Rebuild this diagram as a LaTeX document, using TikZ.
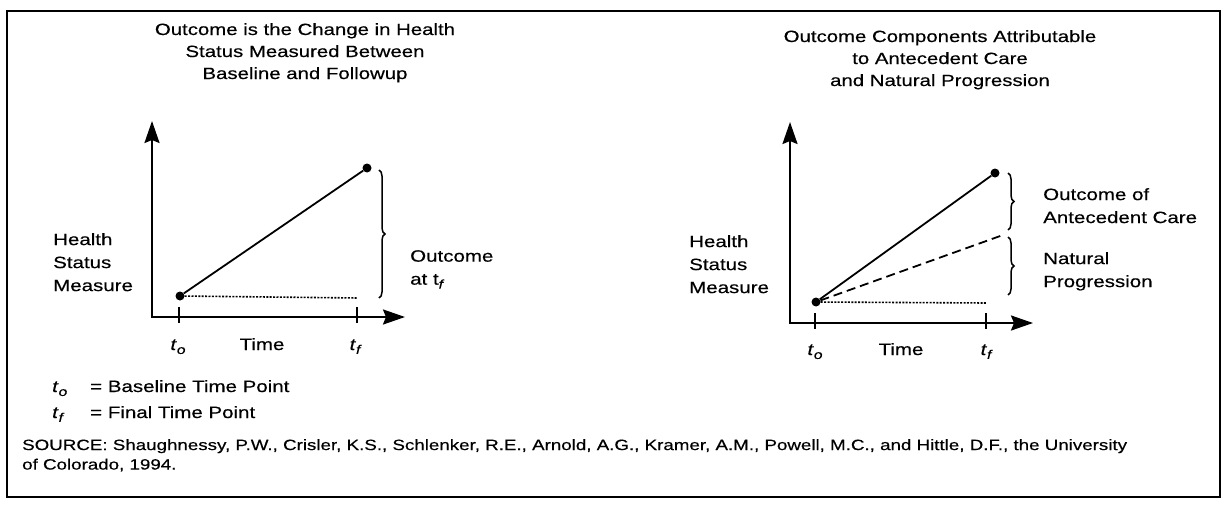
\documentclass[tikz,border=0pt]{standalone}
\usepackage{fontspec}
\setmainfont{Liberation Sans}[FakeStretch=1.25, FakeBold=0.4]
\usetikzlibrary{arrows.meta,decorations.pathreplacing}

\tikzset{
	axis/.style={line width=2.2pt, {Stealth[length=22pt,width=15pt,inset=3pt]}-{Stealth[length=22pt,width=15pt,inset=3pt]}},
	tickmark/.style={line width=1.2pt},
	dot/.style={circle, fill=black, inner sep=0pt, minimum size=9pt},
	rise/.style={line width=1.8pt},
	level/.style={line width=1.6pt, dash pattern=on 2pt off 1.4pt},
	natural/.style={line width=1.8pt, dash pattern=on 9pt off 5pt},
	brc/.style={line width=1.5pt, decorate, decoration={brace, amplitude=6pt}},
	lbl/.style={font=\fontsize{16.4}{23}\selectfont, align=left, inner sep=0pt},
	ttl/.style={font=\fontsize{16.3}{22}\selectfont, align=center, inner sep=0pt},
	src/.style={font=\fontsize{15}{19.5}\selectfont, align=left, inner sep=0pt},
}
\newcommand{\lowsub}[1]{\raisebox{-0.45ex}{\fontsize{12.5}{12.5}\selectfont\itshape #1}}
\newcommand{\tsub}[1]{\textit{t}\lowsub{#1}}

\begin{document}
\begin{tikzpicture}[x=1pt, y=-1pt]
	\useasboundingbox (0,0) rectangle (1225,511);
	\draw[line width=2.4pt] (7,11) rectangle (1220,497);

	% left chart
	\node[ttl, anchor=north] (titleA) at (305,23) {Outcome is the Change in Health\\Status Measured Between\\Baseline and Followup};
	\coordinate (yA) at (152,121);
	\coordinate (xA) at (405,317);
	\draw[axis] (yA) |- (xA);
	\draw[tickmark] (179,307) -- (179,323);
	\draw[tickmark] (357,307) -- (357,323);
	\node[dot] (startA) at (180,296) {};
	\node[dot] (endA) at (367,168) {};
	\coordinate (flatA) at (358,298);
	\draw[rise] (startA) -- (endA);
	\draw[level] (startA) -- (flatA);
	\coordinate (braceAtop) at (379,170);
	\coordinate (braceAbot) at (379,298);
	\draw[brc] (braceAtop) -- (braceAbot);
	\node[lbl, anchor=north west] (hsmA) at (53,233) {Health\\Status\\Measure};
	\node[lbl, anchor=north west] (outA) at (410,250) {Outcome\\at t\lowsub{f}};
	\node[lbl, anchor=base] (toA) at (178,350) {\tsub{o}};
	\node[lbl, anchor=base] (timeA) at (262,350) {Time};
	\node[lbl, anchor=base] (tfA) at (355,350) {\tsub{f}};

	% key
	\node[lbl, anchor=base west] (keyO) at (52,392) {\tsub{o}};
	\node[lbl, anchor=base west] (keyOtext) at (90,392) {= Baseline Time Point};
	\node[lbl, anchor=base west] (keyF) at (52,418) {\tsub{f}};
	\node[lbl, anchor=base west] (keyFtext) at (90,418) {= Final Time Point};

	% right chart
	\node[ttl, anchor=north] (titleB) at (940,30) {Outcome Components Attributable\\to Antecedent Care\\and Natural Progression};
	\coordinate (yB) at (790,122);
	\coordinate (xB) at (1033,323);
	\draw[axis] (yB) |- (xB);
	\draw[tickmark] (815,313) -- (815,329);
	\draw[tickmark] (986,313) -- (986,329);
	\node[dot] (startB) at (816,302) {};
	\node[dot] (endB) at (995,173) {};
	\coordinate (natB) at (1003,235);
	\coordinate (flatB) at (987,303);
	\draw[rise] (startB) -- (endB);
	\draw[natural] (startB) -- (natB);
	\draw[level] (startB) -- (flatB);
	\coordinate (braceBtop) at (1008,173);
	\coordinate (braceBmid) at (1008,230);
	\coordinate (braceBlow) at (1008,237);
	\coordinate (braceBbot) at (1008,295);
	\draw[brc] (braceBtop) -- (braceBmid);
	\draw[brc] (braceBlow) -- (braceBbot);
	\node[lbl, anchor=north west] (hsmB) at (689,235) {Health\\Status\\Measure};
	\node[lbl, anchor=north west] (careB) at (1043,188) {Outcome of\\Antecedent Care};
	\node[lbl, anchor=north west] (natlB) at (1043,252) {Natural\\Progression};
	\node[lbl, anchor=base] (toB) at (815,355) {\tsub{o}};
	\node[lbl, anchor=base] (timeB) at (901,355) {Time};
	\node[lbl, anchor=base] (tfB) at (986,355) {\tsub{f}};

	% source
	\node[src, anchor=north west] (source) at (22,439) {SOURCE: Shaughnessy, P.W., Crisler, K.S., Schlenker, R.E., Arnold, A.G., Kramer, A.M., Powell, M.C., and Hittle, D.F., the University\\of Colorado, 1994.};
\end{tikzpicture}
\end{document}
